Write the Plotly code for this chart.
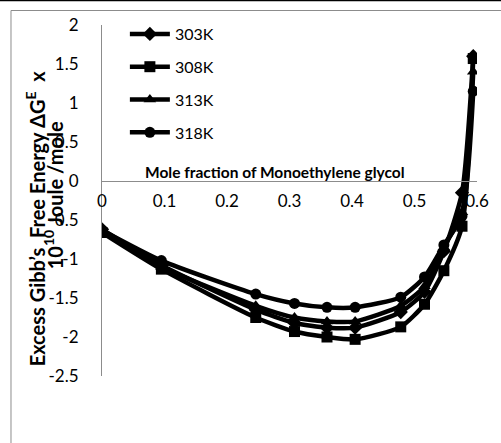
import plotly.graph_objects as go

x_frac = [0, 0.095, 0.246, 0.308, 0.36, 0.405, 0.478, 0.516, 0.547, 0.576, 0.594]
g303 = [-0.62, -1.08, -1.65, -1.82, -1.88, -1.88, -1.68, -1.42, -0.90, -0.15, 1.60]
g308 = [-0.66, -1.13, -1.75, -1.93, -2.00, -2.03, -1.87, -1.58, -1.15, -0.58, 1.57]
g313 = [-0.64, -1.10, -1.60, -1.75, -1.80, -1.80, -1.60, -1.35, -0.85, -0.40, 1.40]
g318 = [-0.63, -1.02, -1.45, -1.57, -1.62, -1.62, -1.49, -1.23, -0.82, -0.45, 1.15]
series = [("303K", g303, "diamond"), ("308K", g308, "square"),
          ("313K", g313, "triangle-up"), ("318K", g318, "circle")]

x_ticks = [0, 0.1, 0.2, 0.3, 0.4, 0.5, 0.6]
x_labels = ["0", "0.1", "0.2", "0.3", "0.4", "0.5", "0.6"]
y_ticks = [2, 1.5, 1, 0.5, 0, -0.5, -1, -1.5, -2, -2.5]
y_labels = ["2", "1.5", "1", "0.5", "0", "-0.5", "-1", "-1.5", "-2", "-2.5"]

FONT = "Lato"
NB = "\u00a0"
fig = go.Figure()
for name, vals, sym in series:
    fig.add_trace(go.Scatter(
        x=x_frac, y=vals, name=name, mode="lines+markers", legendgroup=name,
        line=dict(color="black", width=4.5, shape="spline", smoothing=0.6),
        marker=dict(symbol=sym, size=11, color="black"),
    ))

L, R, T, B = 102, 22, 25, 67
W, H = 501, 443
pw, ph = W - L - R, H - T - B
def px(xp):
    return (xp - L) / pw
def py(yp):
    return (H - B - yp) / ph

ymin, ymax = -2.5, 2
zero_pos = (0 - ymin) / (ymax - ymin)

fig.update_layout(
    width=W, height=H,
    margin=dict(l=L, r=R, t=T, b=B),
    paper_bgcolor="white", plot_bgcolor="white",
    font=dict(family=FONT, size=16, color="black"),
    showlegend=True,
    legend=dict(x=px(125), y=py(17), xanchor="left", yanchor="top",
                bgcolor="rgba(0,0,0,0)", font=dict(size=16, family=FONT),
                tracegroupgap=9, itemwidth=40),
    xaxis=dict(range=[0, 0.6], tickvals=x_ticks, ticktext=x_labels,
               showgrid=False, zeroline=False, showline=True,
               linecolor="#8c8c8c", linewidth=1,
               anchor="free", position=zero_pos,
               ticks="outside", ticklen=5, tickcolor="rgba(0,0,0,0)",
               tickfont=dict(size=17, family=FONT)),
    yaxis=dict(range=[ymin, ymax], tickvals=y_ticks,
               ticktext=[t + NB * 3 for t in y_labels],
               showgrid=False, zeroline=False, showline=True,
               linecolor="#8c8c8c", linewidth=1,
               ticks="outside", ticklen=6, tickcolor="rgba(0,0,0,0)",
               tickfont=dict(size=17, family=FONT)),
    shapes=[
        dict(type="rect", xref="paper", yref="paper",
             x0=px(10.5), x1=px(520), y0=py(10.5), y1=py(460),
             line=dict(color="#8c8c8c", width=1), layer="below"),
        dict(type="line", xref="paper", yref="paper",
             x0=px(-5), x1=px(510), y0=py(0.5), y1=py(0.5),
             line=dict(color="black", width=1.5)),
    ],
    annotations=[
        dict(text="<b>Mole fraction of Monoethylene glycol</b>",
             xref="paper", yref="paper", x=px(276), y=py(172),
             xanchor="center", yanchor="middle", showarrow=False,
             font=dict(size=15.5, family=FONT)),
        dict(text="<b>Excess Gibb’s  Free Energy ΔG<sup>E</sup>  x</b>",
             xref="paper", yref="paper", x=px(35), y=py(218),
             xanchor="center", yanchor="middle", showarrow=False,
             textangle=-90, font=dict(size=20, family=FONT)),
        dict(text="<b>10<sup>10</sup> Joule /mole</b>",
             xref="paper", yref="paper", x=px(53), y=py(195),
             xanchor="center", yanchor="middle", showarrow=False,
             textangle=-90, font=dict(size=20, family=FONT)),
    ],
)

fig.write_html("out.html")
